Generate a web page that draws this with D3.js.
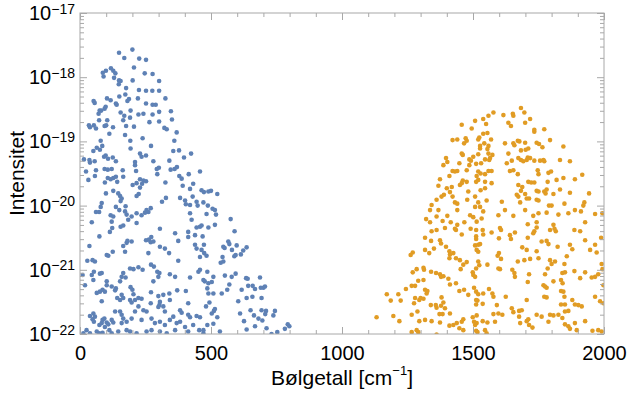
<!DOCTYPE html>
<html><head><meta charset="utf-8">
<script src="https://cdn.jsdelivr.net/npm/d3@7"></script>
<style>body{margin:0;background:#fff}svg{display:block;font-family:"Liberation Sans",Arial,sans-serif}</style>
</head><body><svg id="c" width="627" height="393"></svg>
<script>
// ---- data: [wavenumber (cm^-1), log10(intensity)] ----
const xTickValues = [0, 500, 1000, 1500, 2000];
const xMinorValues = d3.range(0, 2001, 100);
const yDecadeExponents = [-22, -21, -20, -19, -18, -17];
const xTitle = "Bølgetall [cm";
const yTitle = "Intensitet";

const bluePoints = [
[149,-17.62],[200,-17.57],[169,-17.70],[226,-17.71],[252,-17.73],[206,-17.85],[87,-17.93],[99,-17.90],[118,-17.86],[127,-17.90],[135,-17.94],[90,-17.99],[130,-18.01],[247,-17.94],[277,-17.95],[149,-18.05],[155,-18.06],[201,-18.05],[302,-18.06],[148,-18.11],[176,-18.17],[225,-18.20],[252,-18.21],[276,-18.21],[302,-18.21],[173,-18.27],[150,-18.30],[103,-18.33],[117,-18.36],[52,-18.37],[56,-18.40],[187,-18.34],[181,-18.37],[221,-18.33],[326,-18.33],[137,-18.41],[140,-18.43],[252,-18.41],[277,-18.43],[289,-18.43],[98,-18.46],[94,-18.49],[75,-18.52],[81,-18.52],[71,-18.57],[155,-18.55],[193,-18.52],[223,-18.58],[242,-18.57],[277,-18.58],[302,-18.54],[347,-18.53],[169,-18.60],[191,-18.63],[165,-18.67],[104,-18.67],[73,-18.67],[34,-18.75],[53,-18.75],[94,-18.76],[100,-18.75],[126,-18.78],[176,-18.76],[206,-18.77],[265,-18.70],[302,-18.69],[351,-18.66],[38,-18.78],[61,-18.80],[322,-18.79],[331,-18.81],
[112,-18.88],[172,-18.90],[239,-18.95],[369,-18.86],[79,-18.99],[85,-19.07],[64,-19.10],[76,-19.13],[51,-19.15],[192,-18.99],[360,-18.99],[271,-19.07],[193,-19.11],[229,-19.19],[235,-19.24],[252,-19.22],[356,-19.15],[378,-19.14],[15,-19.28],[36,-19.29],[56,-19.31],[38,-19.33],[92,-19.24],[98,-19.22],[107,-19.27],[125,-19.25],[137,-19.31],[210,-19.32],[210,-19.37],[214,-19.46],[280,-19.31],[341,-19.30],[397,-19.25],[424,-19.19],[23,-19.47],[61,-19.45],[94,-19.43],[106,-19.44],[121,-19.43],[163,-19.45],[293,-19.43],[301,-19.41],[346,-19.44],[361,-19.43],[370,-19.40],[415,-19.51],[379,-19.54],[388,-19.58],[295,-19.51],[57,-19.54],[106,-19.57],[117,-19.59],[127,-19.57],[137,-19.55],[165,-19.55],[229,-19.59],[242,-19.61],[237,-19.66],[252,-19.62],[392,-19.69],[432,-19.66],[32,-19.60],[95,-19.64],[142,-19.63],[201,-19.68],[216,-19.65],[229,-19.72],[326,-19.64],[420,-19.74],[464,-19.76],[490,-19.78],[99,-19.81],[127,-19.77],[146,-19.81],[153,-19.85],[159,-19.89],[155,-19.93],[224,-19.82],[216,-19.85],[328,-19.88],[313,-19.94],[382,-19.88],[401,-19.92],[430,-19.86],[445,-19.94],[449,-20.00],[404,-19.98],[420,-19.99],[471,-19.95],[488,-20.00],[83,-19.96],[79,-20.02],[137,-20.02],[174,-20.01],[172,-20.09],[150,-20.07],[254,-20.07],[270,-20.04],[261,-20.10],[248,-20.11],[61,-20.10],[73,-20.10],[117,-20.15],[127,-20.17],[178,-20.14],[184,-20.22],[197,-20.17],[216,-20.12],[216,-20.27],[235,-20.15],[420,-20.12],[483,-20.13],[426,-20.22],[45,-20.26],[121,-20.25],[155,-20.33],[165,-20.31],[123,-20.35],[445,-20.34],[458,-20.33],[490,-20.34],[305,-20.36],[363,-20.43],[413,-20.41],[114,-20.41],
[74,-20.48],[413,-20.49],[439,-20.46],[36,-20.63],[108,-20.78],[102,-20.77],[125,-20.72],[172,-20.72],[165,-20.63],[178,-20.58],[181,-20.55],[197,-20.56],[252,-20.54],[263,-20.53],[270,-20.57],[280,-20.56],[272,-20.49],[261,-20.74],[305,-20.64],[324,-20.67],[340,-20.74],[375,-20.55],[439,-20.61],[445,-20.67],[464,-20.69],[474,-20.74],[483,-20.78],[458,-20.80],[28,-20.86],[48,-20.85],[57,-20.87],[53,-21.03],[45,-21.08],[76,-21.06],[83,-21.05],[51,-21.16],[19,-21.24],[10,-21.08],[102,-21.18],[102,-21.24],[121,-21.26],[137,-21.29],[153,-21.18],[159,-21.11],[174,-21.12],[165,-21.05],[191,-20.98],[204,-20.99],[223,-20.96],[239,-21.00],[271,-20.92],[282,-20.95],[295,-21.03],[303,-21.05],[299,-21.11],[280,-21.18],[343,-21.07],[363,-21.11],[375,-20.86],[420,-21.12],[452,-21.03],[458,-21.00],[476,-21.18],[490,-21.21],[486,-21.29],[490,-21.37],[64,-21.36],[76,-21.34],[86,-21.31],[95,-21.34],[83,-21.49],[134,-21.32],[142,-21.44],[153,-21.47],[165,-21.44],[159,-21.39],[193,-21.27],[200,-21.31],[204,-21.38],[191,-21.47],[197,-21.51],[210,-21.47],[223,-21.44],[235,-21.45],[223,-21.57],[271,-21.35],[270,-21.52],[299,-21.41],[318,-21.39],[341,-21.37],[371,-21.32],[404,-21.33],[305,-21.50],[303,-21.55],[299,-21.58],[318,-21.57],[324,-21.65],[343,-21.47],[382,-21.63],[388,-21.67],[413,-21.52],[445,-21.72],[458,-21.74],[420,-21.74],[481,-21.57],[38,-21.72],[51,-21.68],[57,-21.73],[48,-21.77],[53,-21.81],[74,-21.86],[83,-21.83],[86,-21.78],[93,-21.76],[102,-21.82],[95,-21.89],[108,-21.85],[121,-21.78],[127,-21.82],[134,-21.65],[153,-21.65],[159,-21.70],[165,-21.76],[159,-21.83],[178,-21.81],[197,-21.76],[210,-21.65],[242,-21.63],[254,-21.65],[235,-21.78],[273,-21.76],[286,-21.83],[305,-21.81],[324,-21.86],[343,-21.78],[356,-21.73],[369,-21.83],[382,-21.81],[401,-21.89],[413,-21.70],[432,-21.86],[25,-21.94],[13,-21.99],[38,-21.99],[64,-21.96],[74,-21.99],[86,-21.98],[112,-21.94],[121,-21.99],[146,-21.96],[178,-21.94],[191,-21.96],[216,-21.99],[254,-21.96],[273,-21.94],[305,-21.96],[331,-21.99],[363,-21.94],[413,-21.96],[455,-21.94],[471,-21.99],
[458,-19.47],[473,-19.79],[500,-19.77],[524,-19.82],
[506,-20.05],[515,-20.07],[519,-20.14],[515,-20.30],[575,-20.21],[590,-20.40],[547,-20.64],[552,-20.66],[566,-20.56],[570,-20.60],[580,-20.69],[598,-20.62],[636,-20.65],[623,-20.70],[614,-20.76],[589,-20.79],[594,-20.77],[544,-20.80],[537,-20.89],[547,-20.87],[509,-21.11],[503,-21.19],[553,-21.09],[579,-21.11],[594,-21.06],[570,-21.23],[562,-21.31],[541,-21.37],[509,-21.37],[634,-21.13],[640,-21.14],[687,-21.12],[642,-21.25],[659,-21.25],[668,-21.30],[690,-21.28],[700,-21.28],[706,-21.26],[617,-21.31],[604,-21.49],[636,-21.44],[658,-21.42],[693,-21.44],[515,-21.61],[511,-21.64],[503,-21.68],[524,-21.74],[509,-21.84],[486,-21.86],[534,-21.96],[611,-21.68],[626,-21.80],[651,-21.63],[664,-21.71],[681,-21.76],[696,-21.79],[693,-21.63],[710,-21.64],[707,-21.69],[744,-21.64],[738,-21.71],[636,-21.93],[668,-21.88],[712,-21.91],[731,-22.00],[753,-21.97],[782,-21.92],[793,-21.85],[799,-21.88],[494,-21.51],[471,-21.94],[464,-20.31],[468,-20.48],[473,-20.61],[486,-21.03],[471,-21.16]
];

const orangePoints = [
[1559,-18.60],[1539,-18.65],[1508,-18.68],[1457,-18.74],[1495,-18.80],[1550,-18.73],[1539,-18.88],[1555,-18.87],[1524,-18.94],[1520,-18.97],[1472,-18.95],[1476,-18.99],[1466,-19.03],[1440,-18.97],[1422,-18.98],[1543,-19.03],[1527,-19.07],[1527,-19.11],[1559,-19.07],[1555,-19.12],[1457,-19.19],[1461,-19.21],[1520,-19.20],[1501,-19.24],[1559,-19.19],[1397,-19.26],[1402,-19.32],[1387,-19.37],[1486,-19.28],[1492,-19.30],[1448,-19.34],[1486,-19.37],[1512,-19.35],[1531,-19.34],[1546,-19.28],[1562,-19.29],[1422,-19.46],[1431,-19.47],[1440,-19.46],[1476,-19.45],[1520,-19.47],[1529,-19.50],[1514,-19.54],[1546,-19.51],[1559,-19.46],[1374,-19.59],[1410,-19.54],[1461,-19.61],[1457,-19.65],[1450,-19.68],[1476,-19.63],[1512,-19.63],[1520,-19.60],[1546,-19.63],[1400,-19.73],[1419,-19.71],[1412,-19.79],[1368,-19.69],[1361,-19.91],[1380,-19.86],[1389,-19.83],[1422,-19.86],[1482,-19.78],[1529,-19.76],[1546,-19.73],[1508,-19.86],[1431,-19.95],[1440,-19.97],[1478,-19.91],[1508,-20.02],[1520,-19.95],[1527,-20.02],[1552,-19.92],[1342,-19.99],[1336,-20.07],[1368,-20.07],[1440,-20.07],[1539,-20.09],[1361,-20.17],[1402,-20.16],[1321,-20.21],[1489,-20.15],[1501,-20.18],[1533,-20.20],
[1336,-20.26],[1384,-20.24],[1415,-20.26],[1440,-20.30],[1467,-20.26],[1514,-20.25],[1491,-20.36],[1537,-20.38],[1512,-20.38],[1342,-20.40],[1361,-20.38],[1431,-20.36],[1435,-20.38],[1393,-20.35],[1317,-20.50],[1340,-20.55],[1374,-20.54],[1457,-20.45],[1512,-20.48],[1512,-20.52],[1539,-20.45],[1270,-20.73],[1262,-20.77],[1317,-20.69],[1351,-20.67],[1378,-20.59],[1397,-20.64],[1410,-20.71],[1412,-20.76],[1425,-20.74],[1410,-20.82],[1333,-20.74],[1435,-20.82],[1450,-20.85],[1476,-20.88],[1508,-20.62],[1520,-20.61],[1527,-20.60],[1514,-20.69],[1520,-20.72],[1555,-20.92],[1520,-20.87],[1524,-20.93],[1512,-20.98],[1453,-20.99],[1463,-20.92],[1499,-21.04],[1501,-21.08],[1508,-21.11],[1311,-20.97],[1313,-21.00],[1285,-20.99],[1270,-21.04],[1340,-21.03],[1359,-21.05],[1374,-21.07],[1378,-21.11],[1387,-21.10],[1406,-21.14],[1291,-21.17],[1311,-21.16],[1279,-21.25],[1266,-21.25],[1244,-21.30],[1317,-21.31],[1326,-21.33],[1323,-21.37],[1412,-21.23],[1435,-21.21],[1448,-21.33],[1466,-21.31],[1482,-21.39],[1504,-21.28],[1512,-21.34],[1520,-21.38],[1539,-21.37],[1512,-21.47],[1517,-21.48],[1512,-21.54],[1537,-21.53],[1171,-21.38],[1215,-21.38],[1186,-21.48],[1224,-21.48],[1279,-21.44],[1300,-21.44],[1295,-21.47],[1311,-21.45],[1380,-21.43],[1387,-21.51],[1275,-21.52],[1339,-21.55],[1358,-21.55],[1361,-21.59],[1378,-21.56],[1393,-21.60],[1412,-21.68],[1372,-21.69],[1384,-21.69],[1132,-21.74],[1196,-21.72],[1219,-21.80],[1266,-21.70],[1288,-21.65],[1295,-21.80],[1317,-21.78],[1342,-21.80],[1374,-21.82],[1438,-21.83],[1457,-21.81],[1463,-21.77],[1499,-21.74],[1514,-21.71],[1504,-21.81],[1514,-21.83],[1537,-21.80],[1555,-21.82],[1410,-21.87],[1425,-21.86],[1508,-21.86],[1266,-21.97],[1285,-21.94],[1291,-21.97],[1361,-22.01],[1512,-21.95],[1517,-21.97],[1546,-21.94],[1552,-21.99],[1448,-21.91],[1463,-21.94],
[1578,-18.55],[1616,-18.59],[1652,-18.57],[1654,-18.60],[1683,-18.48],[1696,-18.55],[1718,-18.65],[1699,-18.71],[1635,-18.71],[1645,-18.76],[1734,-18.82],[1734,-18.85],[1772,-18.81],[1569,-18.97],[1622,-19.03],[1654,-19.03],[1658,-19.06],[1671,-18.99],[1677,-19.00],[1699,-19.02],[1711,-19.11],[1701,-19.13],[1683,-19.14],[1743,-19.02],[1752,-19.04],[1765,-19.09],[1794,-18.98],[1845,-19.08],[1635,-19.19],[1574,-19.21],[1565,-19.26],[1648,-19.30],[1629,-19.34],[1673,-19.26],[1683,-19.29],[1692,-19.31],[1705,-19.29],[1709,-19.25],[1718,-19.26],[1734,-19.30],[1756,-19.30],[1769,-19.29],[1772,-19.31],[1832,-19.29],[1870,-19.31],[1571,-19.46],[1641,-19.46],[1654,-19.45],[1671,-19.51],[1747,-19.45],[1750,-19.51],[1788,-19.49],[1798,-19.47],[1845,-19.57],[1889,-19.59],[1917,-19.52],[1711,-19.63],[1722,-19.64],[1734,-19.64],[1785,-19.63],[1819,-19.60],[1571,-19.65],[1673,-19.68],[1688,-19.71],[1683,-19.77],[1667,-19.83],[1673,-19.86],[1699,-19.82],[1705,-19.89],[1743,-19.77],[1750,-19.78],[1772,-19.78],[1781,-19.75],[1777,-19.81],[1807,-19.82],[1832,-19.75],[1870,-19.80],[1943,-19.81],[1610,-19.94],[1680,-19.95],[1714,-19.89],[1743,-19.91],[1750,-19.92],[1790,-20.00],[1800,-20.00],[1849,-19.97],[1925,-19.95],[1921,-20.00],[1889,-20.07],[1912,-20.09],[1622,-20.07],[1699,-20.07],[1750,-20.12],[1781,-20.11],[1826,-20.14],[1864,-20.12],[1966,-20.13],[1994,-20.12],[1597,-20.15],[1654,-20.16],[1730,-20.16],
[1603,-20.35],[1607,-20.38],[1571,-20.42],[1660,-20.42],[1641,-20.46],[1645,-20.52],[1599,-20.51],[1709,-20.29],[1743,-20.26],[1743,-20.34],[1734,-20.40],[1730,-20.43],[1807,-20.30],[1811,-20.36],[1816,-20.40],[1794,-20.38],[1909,-20.40],[1928,-20.26],[1989,-20.50],[1928,-20.54],[1887,-20.38],[1709,-20.50],[1762,-20.56],[1781,-20.55],[1788,-20.60],[1823,-20.64],[1870,-20.61],[1879,-20.68],[1858,-20.79],[1947,-20.69],[1966,-20.61],[1972,-20.73],[1688,-20.65],[1705,-20.69],[1599,-20.74],[1594,-20.78],[1607,-20.83],[1603,-20.99],[1597,-20.98],[1671,-20.87],[1696,-20.85],[1718,-20.83],[1743,-20.71],[1750,-20.82],[1794,-20.85],[1800,-20.91],[1813,-20.87],[1785,-20.98],[1849,-20.91],[1841,-21.05],[1851,-21.04],[1887,-21.02],[1928,-21.04],[1909,-21.13],[1991,-20.91],[1994,-20.99],[1978,-21.07],[1650,-21.00],[1658,-21.05],[1660,-21.11],[1714,-21.07],[1775,-21.07],[1709,-21.19],[1807,-21.18],[1836,-21.16],[1842,-21.21],[1953,-21.12],[1966,-21.11],[1998,-21.24],[1561,-21.30],[1574,-21.37],[1578,-21.42],[1625,-21.42],[1591,-21.55],[1648,-21.60],[1654,-21.66],[1676,-21.64],[1686,-21.63],[1705,-21.47],[1769,-21.24],[1775,-21.26],[1781,-21.28],[1772,-21.42],[1781,-21.43],[1836,-21.33],[1845,-21.34],[1849,-21.42],[1836,-21.54],[1851,-21.54],[1879,-21.47],[1889,-21.54],[1851,-21.65],[1864,-21.64],[1902,-21.55],[1915,-21.57],[1966,-21.42],[1985,-21.49],[1998,-21.52],[1578,-21.69],[1597,-21.68],[1612,-21.70],[1584,-21.81],[1676,-21.73],[1680,-21.83],[1705,-21.80],[1711,-21.77],[1714,-21.86],[1727,-21.90],[1743,-21.70],[1762,-21.73],[1794,-21.70],[1788,-21.81],[1807,-21.71],[1826,-21.70],[1841,-21.75],[1851,-21.85],[1864,-21.88],[1870,-21.92],[1889,-21.83],[1896,-21.94],[1928,-21.80],[1956,-21.95],[1978,-21.94],[1991,-21.96]
];

const seriesColors = ["#5E81B5", "#E19C24"];

// ---- chart ----
const svg = d3.select("#c");
const L = 80, R = 604, T = 13, B = 334;
const x = d3.scaleLinear().domain([0, 2000]).range([L, R]);
const y = d3.scaleLog().domain([1e-22, 1e-17]).range([B, T]);
const frameColor = "#a8a8a8";
const tickFont = 20;

svg.append("defs").append("clipPath").attr("id", "clip")
  .append("rect").attr("x", L).attr("y", T).attr("width", R - L).attr("height", B - T);

const pts = svg.append("g").attr("clip-path", "url(#clip)");
[bluePoints, orangePoints].forEach((data, i) => {
  pts.selectAll(null).data(data).join("circle")
    .attr("cx", d => x(d[0]))
    .attr("cy", d => y(Math.pow(10, d[1])))
    .attr("r", 2.3)
    .attr("fill", seriesColors[i]);
});

const yMajor = yDecadeExponents.map(e => Math.pow(10, e));
const yMinor = [];
yDecadeExponents.slice(0, -1).forEach(e => { for (let k = 2; k <= 9; k++) yMinor.push(k * Math.pow(10, e)); });

function styleAxis(g) {
  g.select(".domain").remove();
  g.selectAll(".tick line").attr("stroke", frameColor);
  g.selectAll(".tick text").attr("fill", "#000").attr("font-size", tickFont)
    .attr("font-family", '"Liberation Sans", Arial, sans-serif');
}

// bottom
svg.append("g").attr("transform", `translate(0,${B})`)
  .call(d3.axisBottom(x).tickValues(xMinorValues).tickSize(-4).tickFormat("")).call(styleAxis);
svg.append("g").attr("transform", `translate(0,${B})`)
  .call(d3.axisBottom(x).tickValues(xTickValues).tickSize(-7).tickPadding(12).tickFormat(d3.format("d"))).call(styleAxis);
// top
svg.append("g").attr("transform", `translate(0,${T})`)
  .call(d3.axisTop(x).tickValues(xMinorValues).tickSize(-4).tickFormat("")).call(styleAxis);
svg.append("g").attr("transform", `translate(0,${T})`)
  .call(d3.axisTop(x).tickValues(xTickValues).tickSize(-7).tickFormat("")).call(styleAxis);
// left
svg.append("g").attr("transform", `translate(${L},0)`)
  .call(d3.axisLeft(y).tickValues(yMinor).tickSize(-4).tickFormat("")).call(styleAxis);
const gy = svg.append("g").attr("transform", `translate(${L},0)`)
  .call(d3.axisLeft(y).tickValues(yMajor).tickSize(-7).tickPadding(5).tickFormat(d => "10")).call(styleAxis);
gy.selectAll(".tick text").each(function(d) {
  const t = d3.select(this);
  const e = Math.round(Math.log10(d));
  t.text(null);
  t.append("tspan").text("10");
  t.append("tspan").attr("font-size", 14).attr("dy", "-0.45em").text("\u2212" + Math.abs(e));
});
// right
svg.append("g").attr("transform", `translate(${R},0)`)
  .call(d3.axisRight(y).tickValues(yMinor).tickSize(-4).tickFormat("")).call(styleAxis);
svg.append("g").attr("transform", `translate(${R},0)`)
  .call(d3.axisRight(y).tickValues(yMajor).tickSize(-7).tickFormat("")).call(styleAxis);

// frame
svg.append("rect").attr("x", L).attr("y", T).attr("width", R - L).attr("height", B - T)
  .attr("fill", "none").attr("stroke", frameColor).attr("stroke-width", 1);

// titles
const xt = svg.append("text").attr("x", (L + R) / 2).attr("y", 385)
  .attr("text-anchor", "middle").attr("font-size", 21).attr("fill", "#000");
xt.append("tspan").text(xTitle);
xt.append("tspan").attr("font-size", 13).attr("dy", "-0.75em").text("\u22121");
xt.append("tspan").attr("dy", "0.47em").text("]");

svg.append("text").attr("transform", `translate(24,${(T + B) / 2}) rotate(-90)`)
  .attr("text-anchor", "middle").attr("font-size", 21).attr("fill", "#000").text(yTitle);
</script>
</body></html>
